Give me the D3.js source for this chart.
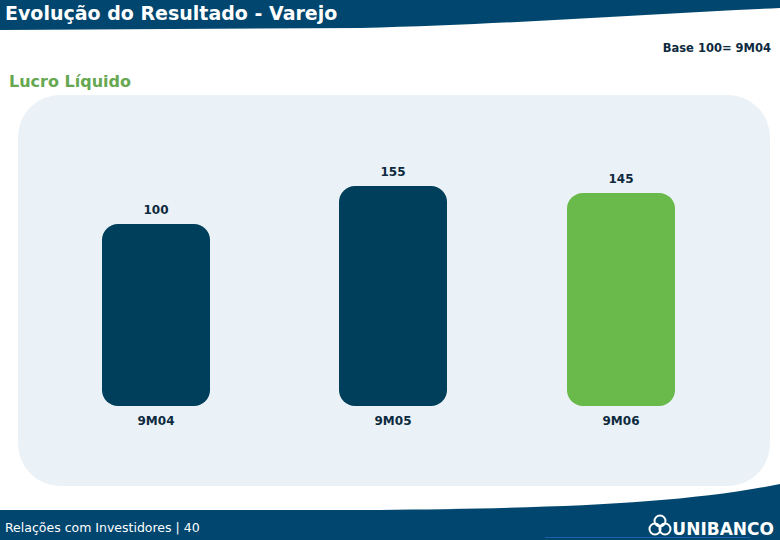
<!DOCTYPE html>
<html><head><meta charset="utf-8">
<script src="https://cdn.jsdelivr.net/npm/d3@7"></script>
<style>body{margin:0;background:#fff}svg{display:block}</style>
</head><body>
<script>
const categories = ["9M04", "9M05", "9M06"];
const values = [100, 155, 145];
const barColors = ["#003f5c", "#003f5c", "#69b94b"];
const title = "Evolução do Resultado - Varejo";
const subtitle = "Lucro Líquido";
const baseNote = "Base 100= 9M04";
const footerText = "Relações com Investidores | 40";

const W = 780, H = 540;
const svg = d3.select("body").append("svg").attr("width", W).attr("height", H);
const font = "DejaVu Sans, Verdana, sans-serif";

// header band with curved lower edge
svg.append("path")
  .attr("d", "M0,0 H780 V8 C640,14 520,24 360,28 L0,30 Z")
  .attr("fill", "#00466e");
svg.append("text").attr("x", 5).attr("y", 20).text(title)
  .attr("font-family", font).attr("font-weight", "bold").attr("font-size", 19)
  .attr("fill", "#fff");

svg.append("text").attr("x", 771).attr("y", 52).attr("text-anchor", "end").text(baseNote)
  .attr("font-family", font).attr("font-weight", "bold").attr("font-size", 11.5)
  .attr("fill", "#0d2a3e");

svg.append("text").attr("x", 9).attr("y", 87).text(subtitle)
  .attr("font-family", font).attr("font-weight", "bold").attr("font-size", 16)
  .attr("fill", "#66a851");

// panel
svg.append("rect").attr("x", 18).attr("y", 95).attr("width", 752).attr("height", 391)
  .attr("rx", 42).attr("ry", 42).attr("fill", "#ebf2f7");

// scales
const xc = d3.scaleOrdinal().domain(categories).range([156, 393, 621]);
const y = d3.scaleLinear().domain([100, 155]).range([224, 186]);
const baseline = 406;
const bw = 108;

const g = svg.append("g");
g.selectAll("rect.bar").data(values).enter().append("rect")
  .attr("class", "bar")
  .attr("x", (d, i) => xc(categories[i]) - bw / 2)
  .attr("y", d => y(d))
  .attr("width", bw)
  .attr("height", d => baseline - y(d))
  .attr("rx", 16).attr("ry", 16)
  .attr("fill", (d, i) => barColors[i]);

g.selectAll("text.val").data(values).enter().append("text")
  .attr("class", "val")
  .attr("x", (d, i) => xc(categories[i]))
  .attr("y", d => y(d) - 10)
  .attr("text-anchor", "middle").text(d => d)
  .attr("font-family", font).attr("font-weight", "bold").attr("font-size", 12)
  .attr("fill", "#0d2a3e");

g.selectAll("text.cat").data(categories).enter().append("text")
  .attr("class", "cat")
  .attr("x", d => xc(d)).attr("y", 425)
  .attr("text-anchor", "middle").text(d => d)
  .attr("font-family", font).attr("font-weight", "bold").attr("font-size", 12)
  .attr("fill", "#0d2a3e");

// footer band with curved top edge
svg.append("path")
  .attr("d", "M0,510 L380,510 C560,508 680,504 780,484 V540 H0 Z")
  .attr("fill", "#00466e");
svg.append("text").attr("x", 5).attr("y", 532).text(footerText)
  .attr("font-family", font).attr("font-size", 12.5).attr("fill", "#fff");

// logo
const logo = svg.append("g").attr("transform", "translate(660,527)");
[[0,-6],[-5,2],[5,2]].forEach(p => {
  logo.append("circle").attr("cx", p[0]).attr("cy", p[1]).attr("r", 5.5)
    .attr("fill", "none").attr("stroke", "#fff").attr("stroke-width", 2);
});
svg.append("text").attr("x", 774).attr("y", 535).attr("text-anchor", "end").text("UNIBANCO")
  .attr("font-family", font).attr("font-weight", "bold").attr("font-size", 17)
  .attr("fill", "#fff");
svg.append("line").attr("x1", 545).attr("x2", 750).attr("y1", 537.5).attr("y2", 537.5)
  .attr("stroke", "#1e5fb0").attr("stroke-width", 1);
</script>
</body></html>
